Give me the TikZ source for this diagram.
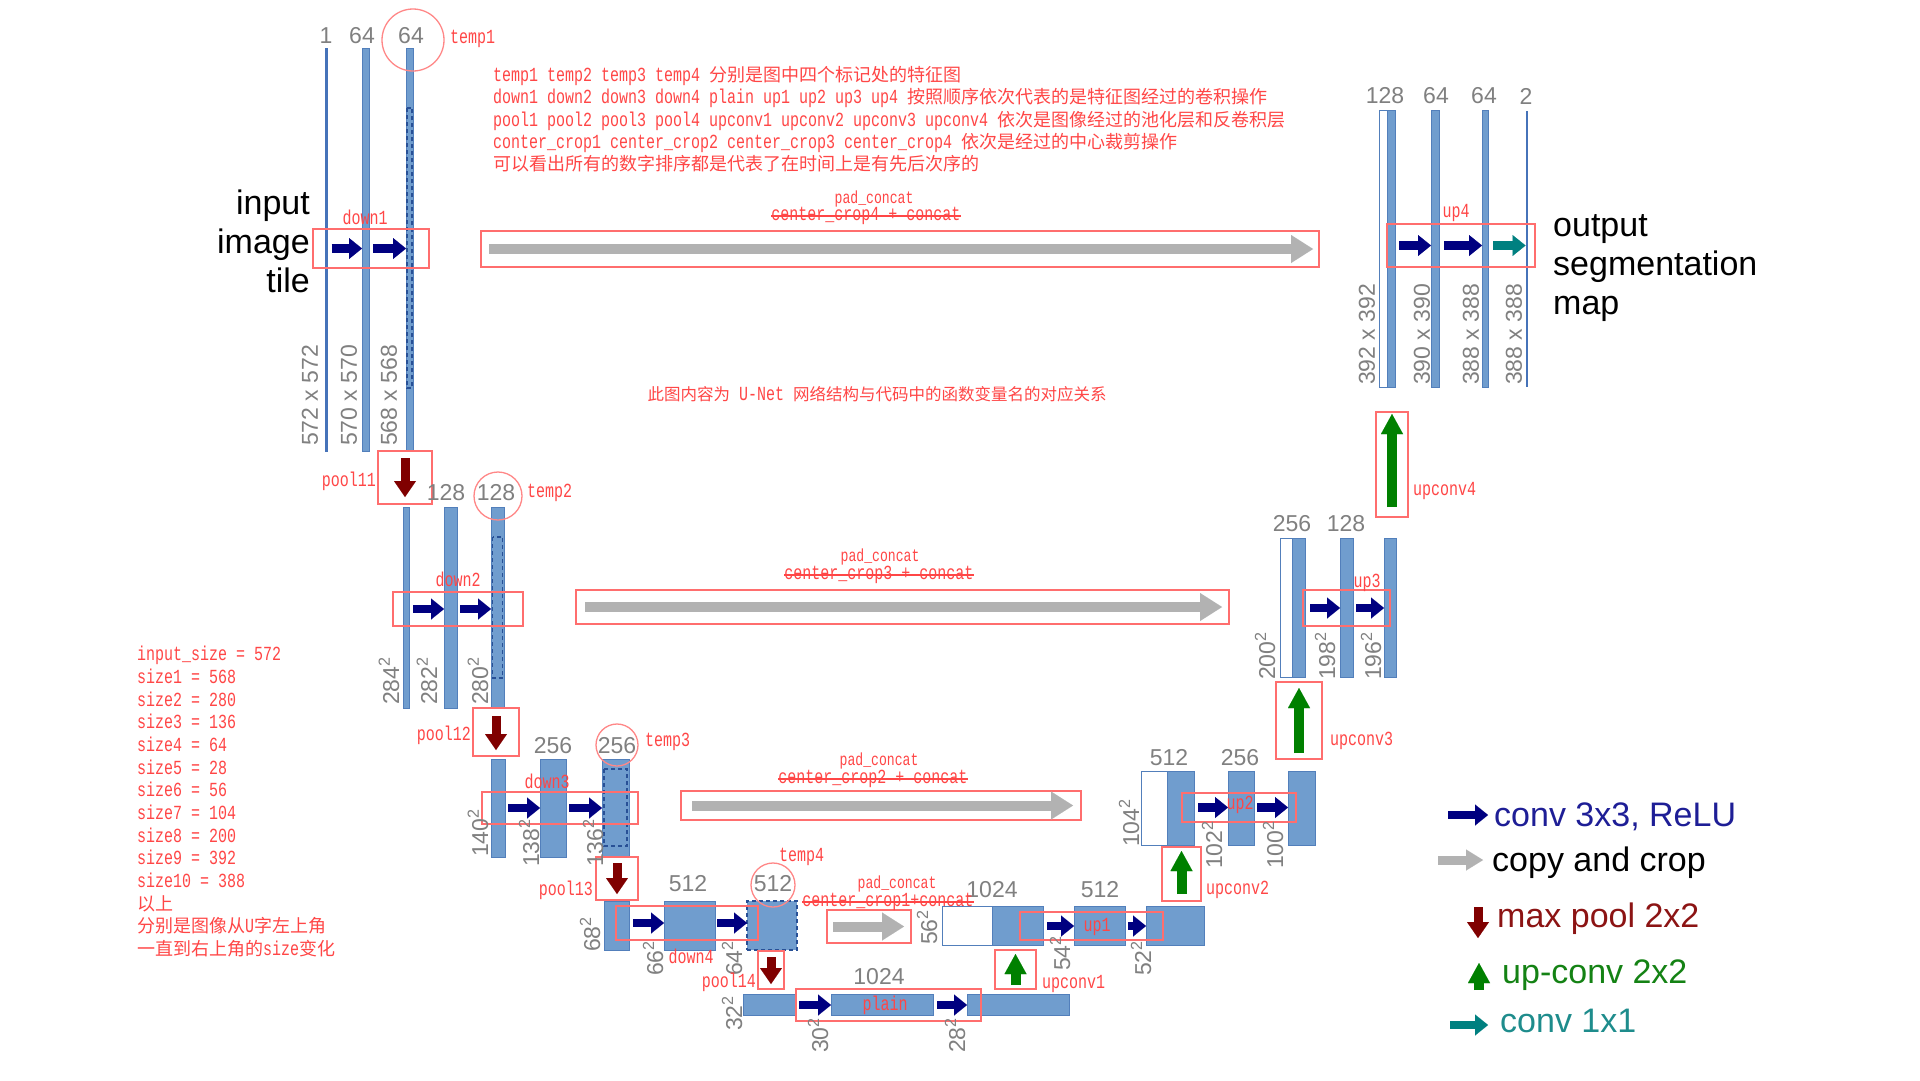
\documentclass[tikz,border=0pt]{standalone}
\usepackage{fontspec}
\setmainfont{Liberation Sans}
\newfontfamily\cjkf{Noto Sans CJK SC}
\newfontfamily\monof[FakeStretch=0.75]{Liberation Mono}
\usetikzlibrary{arrows.meta,calc}
\definecolor{barblue}{RGB}{112,157,206}
\definecolor{bardark}{RGB}{82,127,187}
\definecolor{thinblue}{RGB}{70,115,185}
\definecolor{cropblue}{RGB}{40,80,150}
\definecolor{boxred}{RGB}{255,110,110}
\definecolor{circred}{RGB}{255,135,135}
\definecolor{annred}{RGB}{255,70,70}
\definecolor{numgray}{RGB}{128,128,128}
\definecolor{navyc}{RGB}{0,0,128}
\definecolor{copyg}{RGB}{178,178,178}
\definecolor{poolc}{RGB}{128,0,0}
\definecolor{upc}{RGB}{0,128,0}
\definecolor{tealc}{RGB}{0,128,128}
\definecolor{navytxt}{RGB}{30,30,150}
\definecolor{pooltxt}{RGB}{140,20,20}
\definecolor{uptxt}{RGB}{20,130,20}
\definecolor{tealtxt}{RGB}{30,140,140}
\newcommand\zh[1]{{\cjkf\fontsize{18}{22}\selectfont #1}}
\newcommand\zhs[1]{{\cjkf\fontsize{16.5}{20}\selectfont #1}}
\newcommand\bx[6][]{\node[#1,minimum width={(#5-#3)*1pt},minimum height={(#6-#4)*1pt}] (#2) at ({(#3+#5)/2},{(#4+#6)/2}) {};}
\tikzset{
 bluebar/.style={draw=bardark,fill=barblue,line width=0.8pt,inner sep=0pt,outer sep=0pt},
 whitebar/.style={draw=bardark,fill=white,line width=1pt,inner sep=0pt,outer sep=0pt},
 thinbar/.style={fill=thinblue,draw=none,inner sep=0pt,outer sep=0pt},
 dashbar/.style={fill=barblue,draw=cropblue,line width=1.6pt,dash pattern=on 4pt off 3pt,inner sep=0pt,outer sep=0pt},
 redbox/.style={draw=boxred,line width=1.4pt,inner sep=0pt,outer sep=0pt},
 cropbox/.style={draw=cropblue,line width=1.6pt,dash pattern=on 4pt off 3pt},
 convarr/.style={draw=navyc,line width=8.5pt,-{Triangle[length=13pt,width=21pt,line width=0.01pt]}},
 tealarr/.style={draw=tealc,line width=8.5pt,-{Triangle[length=13pt,width=21pt,line width=0.01pt]}},
 copyarr/.style={draw=copyg,line width=10pt,-{Triangle[length=22pt,width=28pt,line width=0.01pt]}},
 copyleg/.style={draw=copyg,line width=9pt,-{Triangle[length=17pt,width=21pt,line width=0.01pt]}},
 poolarr/.style={draw=poolc,line width=9pt,-{Triangle[length=16pt,width=22pt,line width=0.01pt]}},
 uparr/.style={draw=upc,line width=10pt,-{Triangle[length=20pt,width=22pt,line width=0.01pt]}},
 numlbl/.style={text=numgray,font=\fontsize{23}{23}\selectfont,inner sep=0pt},
 dimlbl/.style={numlbl,rotate=90,anchor=west},
 rlbl/.style={text=annred,font=\monof\fontsize{20}{22}\selectfont,inner sep=0pt},
 padlbl/.style={text=annred,font=\monof\fontsize{17.5}{20}\selectfont,inner sep=0pt},
 annline/.style={rlbl,anchor=base west},
 strike/.style={draw=annred,line width=1.2pt},
 tcircle/.style={draw=circred,line width=1.3pt},
 bigtxt/.style={font=\fontsize{34}{39}\selectfont,inner sep=0pt},
}
\begin{document}
\begin{tikzpicture}[x=1pt,y=-1pt]
\fill[white] (0,0) rectangle (1920,1080);
\useasboundingbox (0,0) rectangle (1920,1080);

% ---------- bars: contracting path ----------
\bx[thinbar]{b10}{325}{48}{327.5}{452}
\bx[bluebar]{b11}{362}{48}{369}{451}
\bx[bluebar]{b12}{406}{48}{413}{451}
\draw[cropbox] (406.8,108) rectangle (412.2,388);

\bx[bluebar]{b20}{403}{507}{409}{708}
\bx[bluebar]{b21}{444}{507}{457}{708}
\bx[bluebar]{b22}{491}{507}{504}{708}
\draw[cropbox] (492.5,537) rectangle (502.5,678);

\bx[bluebar]{b30}{491}{759}{505}{857}
\bx[bluebar]{b31}{540}{759}{566}{857}
\bx[bluebar]{b32}{602}{759}{629}{857}
\draw[cropbox] (604,769) rectangle (627,846);

\bx[bluebar]{b40}{604}{901}{629}{950}
\bx[bluebar]{b41}{664}{901}{715}{950}
\bx[dashbar]{b42}{747}{901}{797}{950}

\bx[bluebar]{b50}{743}{994}{795}{1015}
\bx[bluebar]{b51}{831}{994}{933}{1015}
\bx[bluebar]{b52}{967}{994}{1069}{1015}

% ---------- bars: expanding path ----------
\bx[whitebar]{w43}{942}{906}{992}{945}
\bx[bluebar]{b43}{992}{906}{1043}{945}
\bx[bluebar]{b44}{1074}{906}{1125}{945}
\bx[bluebar]{b45}{1146}{906}{1204}{945}

\bx[whitebar]{w33}{1141}{771}{1167}{845}
\bx[bluebar]{b33}{1167}{771}{1194}{845}
\bx[bluebar]{b34}{1228}{771}{1254}{845}
\bx[bluebar]{b35}{1288}{771}{1315}{845}

\bx[whitebar]{w23}{1280}{538}{1292}{677}
\bx[bluebar]{b23}{1292}{538}{1305}{677}
\bx[bluebar]{b24}{1340}{538}{1353}{677}
\bx[bluebar]{b25}{1384}{538}{1396}{677}

\bx[whitebar]{w13}{1379}{110}{1387}{387}
\bx[bluebar]{b13}{1387}{110}{1395}{387}
\bx[bluebar]{b14}{1431}{110}{1439}{387}
\bx[bluebar]{b15}{1482}{110}{1488}{387}
\bx[thinbar]{b16}{1525.5}{111}{1527.5}{387}

% ---------- red boxes ----------
\bx[redbox]{d1}{313}{229}{429}{268}
\bx[redbox]{d2}{393}{592}{523}{626}
\bx[redbox]{d3}{482}{792}{638}{824}
\bx[redbox]{d4}{616}{906}{758}{940}
\bx[redbox]{pl}{796}{989}{981}{1021}
\bx[redbox]{u1}{1020}{912}{1163}{940}
\bx[redbox]{u2}{1182}{793}{1296}{822}
\bx[redbox]{u3}{1303}{590}{1390}{626}
\bx[redbox]{u4}{1387}{224}{1535}{267}
\bx[redbox]{c4}{481}{231}{1319}{267}
\bx[redbox]{c3}{576}{590}{1229}{624}
\bx[redbox]{c2}{681}{791}{1081}{820}
\bx[redbox]{c1}{827}{910}{911}{943}
\bx[redbox]{p1}{378}{451}{432}{504}
\bx[redbox]{p2}{473}{708}{519}{756}
\bx[redbox]{p3}{596}{857}{638}{900}
\bx[redbox]{p4}{758}{951}{784}{989}
\bx[redbox]{uc1}{995}{950}{1036}{989}
\bx[redbox]{uc2}{1162}{847}{1201}{901}
\bx[redbox]{uc3}{1276}{682}{1322}{759}
\bx[redbox]{uc4}{1376}{412}{1408}{517}

% ---------- circles ----------
\draw[tcircle] (413,40) circle[radius=31pt];
\draw[tcircle] (498,496) circle[radius=24pt];
\draw[tcircle] (617,745) circle[radius=21pt];
\draw[tcircle] (773,885) circle[radius=22pt];

% ---------- conv arrows ----------
\draw[convarr] ($(b10.east |- d1.center)+(4,0)$) -- (b11.west |- d1.center);
\draw[convarr] ($(b11.east |- d1.center)+(4,0)$) -- (b12.west |- d1.center);
\draw[convarr] ($(b20.east |- d2.center)+(4,0)$) -- (b21.west |- d2.center);
\draw[convarr] ($(b21.east |- d2.center)+(3,0)$) -- (b22.west |- d2.center);
\draw[convarr] ($(b30.east |- d3.center)+(3,0)$) -- (b31.west |- d3.center);
\draw[convarr] ($(b31.east |- d3.center)+(3,0)$) -- (b32.west |- d3.center);
\draw[convarr] ($(b40.east |- d4.center)+(4,0)$) -- (b41.west |- d4.center);
\draw[convarr] ($(b41.east |- d4.center)+(2,0)$) -- (b42.west |- d4.center);
\draw[convarr] ($(b50.east |- pl.center)+(4,0)$) -- (b51.west |- pl.center);
\draw[convarr] ($(b51.east |- pl.center)+(4,0)$) -- (b52.west |- pl.center);
\draw[convarr] ($(b43.east |- u1.center)+(4,0)$) -- (b44.west |- u1.center);
\draw[convarr] ($(b44.east |- u1.center)+(3,0)$) -- (b45.west |- u1.center);
\draw[convarr] ($(b33.east |- u2.center)+(4,0)$) -- (b34.west |- u2.center);
\draw[convarr] ($(b34.east |- u2.center)+(3,0)$) -- (b35.west |- u2.center);
\draw[convarr] ($(b23.east |- u3.center)+(5,0)$) -- (b24.west |- u3.center);
\draw[convarr] ($(b24.east |- u3.center)+(3,0)$) -- (b25.west |- u3.center);
\draw[convarr] ($(b13.east |- u4.center)+(4,0)$) -- (b14.west |- u4.center);
\draw[convarr] ($(b14.east |- u4.center)+(5,0)$) -- (b15.west |- u4.center);
\draw[tealarr] ($(b15.east |- u4.center)+(5,0)$) -- (b16.west |- u4.center);

% ---------- copy arrows ----------
\draw[copyarr] ($(c4.west)+(8,0)$) -- ($(c4.east)+(-6,0)$);
\draw[copyarr] ($(c3.west)+(9,0)$) -- ($(c3.east)+(-7,0)$);
\draw[copyarr] ($(c2.west)+(11,0)$) -- ($(c2.east)+(-8,0)$);
\draw[copyarr] ($(c1.west)+(6,0)$) -- ($(c1.east)+(-7,0)$);

% ---------- pool / up-conv arrows ----------
\draw[poolarr] ($(p1.north)+(0,7)$) -- ($(p1.south)+(0,-7)$);
\draw[poolarr] ($(p2.north)+(0,8)$) -- ($(p2.south)+(0,-6)$);
\draw[poolarr] ($(p3.north)+(0,6)$) -- ($(p3.south)+(0,-6)$);
\draw[poolarr] ($(p4.north)+(0,6)$) -- ($(p4.south)+(0,-5)$);
\draw[uparr] ($(uc1.south)+(0,-4)$) -- ($(uc1.north)+(0,4)$);
\draw[uparr] ($(uc2.south)+(0,-7)$) -- ($(uc2.north)+(0,4)$);
\draw[uparr] ($(uc3.south)+(0,-6)$) -- ($(uc3.north)+(0,6)$);
\draw[uparr] ($(uc4.south)+(0,-10)$) -- ($(uc4.north)+(0,2)$);

% ---------- channel numbers ----------
\node[numlbl] (n10) at (326,36) {1};
\node[numlbl] (n11) at (362,36) {64};
\node[numlbl] (n12) at (411,36) {64};
\node[numlbl] (n21) at (446,493) {128};
\node[numlbl] (n22) at (496,493) {128};
\node[numlbl] (n31) at (553,746) {256};
\node[numlbl] (n32) at (617,746) {256};
\node[numlbl] (n41) at (688,884) {512};
\node[numlbl] (n42) at (773,884) {512};
\node[numlbl] (n51) at (879,977) {1024};
\node[numlbl] (n43) at (992,890) {1024};
\node[numlbl] (n44) at (1100,890) {512};
\node[numlbl] (n33) at (1169,758) {512};
\node[numlbl] (n34) at (1240,758) {256};
\node[numlbl] (n23) at (1292,524) {256};
\node[numlbl] (n24) at (1346,524) {128};
\node[numlbl] (n13) at (1385,96) {128};
\node[numlbl] (n14) at (1436,96) {64};
\node[numlbl] (n15) at (1484,96) {64};
\node[numlbl] (n16) at (1526,96) {2};

% ---------- size labels ----------
\node[dimlbl] (s10) at (310,446) {572 x 572};
\node[dimlbl] (s11) at (349,446) {570 x 570};
\node[dimlbl] (s12) at (389,446) {568 x 568};
\node[dimlbl] (s20) at (389,705) {284\textsuperscript{2}};
\node[dimlbl] (s21) at (427,705) {282\textsuperscript{2}};
\node[dimlbl] (s22) at (478,705) {280\textsuperscript{2}};
\node[dimlbl] (s30) at (478,857) {140\textsuperscript{2}};
\node[dimlbl] (s31) at (529,867) {138\textsuperscript{2}};
\node[dimlbl] (s32) at (593,867) {136\textsuperscript{2}};
\node[dimlbl] (s40) at (590,952) {68\textsuperscript{2}};
\node[dimlbl] (s41) at (653,976) {66\textsuperscript{2}};
\node[dimlbl] (s42) at (732,976) {64\textsuperscript{2}};
\node[dimlbl] (s50) at (732,1031) {32\textsuperscript{2}};
\node[dimlbl] (s51) at (818,1053) {30\textsuperscript{2}};
\node[dimlbl] (s52) at (955,1053) {28\textsuperscript{2}};
\node[dimlbl] (s43) at (927,945) {56\textsuperscript{2}};
\node[dimlbl] (s44) at (1060,971) {54\textsuperscript{2}};
\node[dimlbl] (s45) at (1141,976) {52\textsuperscript{2}};
\node[dimlbl] (s33) at (1129,847) {104\textsuperscript{2}};
\node[dimlbl] (s34) at (1212,869) {102\textsuperscript{2}};
\node[dimlbl] (s35) at (1273,869) {100\textsuperscript{2}};
\node[dimlbl] (s23) at (1265,680) {200\textsuperscript{2}};
\node[dimlbl] (s24) at (1325,680) {198\textsuperscript{2}};
\node[dimlbl] (s25) at (1371,680) {196\textsuperscript{2}};
\node[dimlbl] (s13) at (1367,385) {392 x 392};
\node[dimlbl] (s14) at (1422,385) {390 x 390};
\node[dimlbl] (s15) at (1471,385) {388 x 388};
\node[dimlbl] (s16) at (1514,385) {388 x 388};

% ---------- input / output text ----------
\node[bigtxt,anchor=base east] (in1) at (310,214) {input};
\node[bigtxt,anchor=base east] (in2) at (310,253) {image};
\node[bigtxt,anchor=base east] (in3) at (310,292) {tile};
\node[bigtxt,anchor=base west] (out1) at (1553,236) {output};
\node[bigtxt,anchor=base west] (out2) at (1553,275) {segmentation};
\node[bigtxt,anchor=base west] (out3) at (1553,314) {map};

% ---------- red labels ----------
\node[rlbl,anchor=west] (lt1) at (450,39) {temp1};
\node[rlbl,anchor=west] (lt2) at (527,493) {temp2};
\node[rlbl,anchor=west] (lt3) at (645,742) {temp3};
\node[rlbl,anchor=west] (lt4) at (779,857) {temp4};
\node[rlbl] (ld1) at (365,217) {down1};
\node[rlbl] (ld2) at (458,579) {down2};
\node[rlbl] (ld3) at (547,781) {down3};
\node[rlbl] (ld4) at (691,956) {down4};
\node[rlbl] (lpl) at (885,1005) {plain};
\node[rlbl] (lu1) at (1097,927) {up1};
\node[rlbl] (lu2) at (1240,805) {up2};
\node[rlbl] (lu3) at (1367,583) {up3};
\node[rlbl] (lu4) at (1456,213) {up4};
\node[rlbl,anchor=east] (lp1) at (376,481) {pool11};
\node[rlbl,anchor=east] (lp2) at (471,735) {pool12};
\node[rlbl,anchor=east] (lp3) at (593,890) {pool13};
\node[rlbl,anchor=east] (lp4) at (756,982) {pool14};
\node[rlbl,anchor=west] (luc1) at (1042,984) {upconv1};
\node[rlbl,anchor=west] (luc2) at (1206,890) {upconv2};
\node[rlbl,anchor=west] (luc3) at (1330,741) {upconv3};
\node[rlbl,anchor=west] (luc4) at (1413,491) {upconv4};

% ---------- pad_concat labels ----------
\node[padlbl] (pc4) at (874,199) {pad\_concat};
\node[rlbl] (cc4) at (866,216) {center\_crop4 + concat};
\draw[strike] (cc4.west) -- (cc4.east);
\node[padlbl] (pc3) at (880,557) {pad\_concat};
\node[rlbl] (cc3) at (879,575) {center\_crop3 + concat};
\draw[strike] (cc3.west) -- (cc3.east);
\node[padlbl] (pc2) at (879,761) {pad\_concat};
\node[rlbl] (cc2) at (873,779) {center\_crop2 + concat};
\draw[strike] (cc2.west) -- (cc2.east);
\node[padlbl] (pc1) at (897,884) {pad\_concat};
\node[rlbl] (cc1) at (888,902) {center\_crop1+concat};
\draw[strike] (cc1.west) -- (cc1.east);

% ---------- top annotation ----------
\node[annline] (a1) at (493,81.5) {temp1 temp2 temp3 temp4 \zh{分别是图中四个标记处的特征图}};
\node[annline] (a2) at (493,103.8) {down1 down2 down3 down4 plain up1 up2 up3 up4 \zh{按照顺序依次代表的是特征图经过的卷积操作}};
\node[annline] (a3) at (493,126.1) {pool1 pool2 pool3 pool4 upconv1 upconv2 upconv3 upconv4 \zh{依次是图像经过的池化层和反卷积层}};
\node[annline] (a4) at (493,148.4) {conter\_crop1 center\_crop2 center\_crop3 center\_crop4 \zh{依次是经过的中心裁剪操作}};
\node[annline] (a5) at (493,170.7) {\zh{可以看出所有的数字排序都是代表了在时间上是有先后次序的}};

\node[rlbl] (title) at (877,394) {\zhs{此图内容为} U-Net \zhs{网络结构与代码中的函数变量名的对应关系}};

% ---------- size list ----------
\node[annline] (z0) at (137,660.7) {input\_size = 572};
\node[annline] (z1) at (137,683.4) {size1 = 568};
\node[annline] (z2) at (137,706.0) {size2 = 280};
\node[annline] (z3) at (137,728.7) {size3 = 136};
\node[annline] (z4) at (137,751.4) {size4 = 64};
\node[annline] (z5) at (137,774.1) {size5 = 28};
\node[annline] (z6) at (137,796.7) {size6 = 56};
\node[annline] (z7) at (137,819.4) {size7 = 104};
\node[annline] (z8) at (137,842.1) {size8 = 200};
\node[annline] (z9) at (137,864.7) {size9 = 392};
\node[annline] (z10) at (137,887.4) {size10 = 388};
\node[annline] (z11) at (137,910.1) {\zh{以上}};
\node[annline] (z12) at (137,932.7) {\zh{分别是图像从}U\zh{字左上角}};
\node[annline] (z13) at (137,955.4) {\zh{一直到右上角的}size\zh{变化}};

% ---------- legend ----------
\node[bigtxt,anchor=base west,text=navytxt] (lg1) at (1494,826) {conv 3x3, ReLU};
\node[bigtxt,anchor=base west,text=black] (lg2) at (1492,871) {copy and crop};
\node[bigtxt,anchor=base west,text=pooltxt] (lg3) at (1497,927) {max pool 2x2};
\node[bigtxt,anchor=base west,text=uptxt] (lg4) at (1502,983) {up-conv 2x2};
\node[bigtxt,anchor=base west,text=tealtxt] (lg5) at (1500,1032) {conv 1x1};
\draw[convarr] ($(lg1.base west)+(-46,-11)$) -- ($(lg1.base west)+(-6,-11)$);
\draw[copyleg] ($(lg2.base west)+(-54,-11)$) -- ($(lg2.base west)+(-9,-11)$);
\draw[poolarr] ($(lg3.base west)+(-19,-20)$) -- ($(lg3.base west)+(-19,11)$);
\draw[uparr] ($(lg4.base west)+(-23,7)$) -- ($(lg4.base west)+(-23,-20)$);
\draw[tealarr] ($(lg5.base west)+(-50,-7)$) -- ($(lg5.base west)+(-12,-7)$);
\end{tikzpicture}
\end{document}
